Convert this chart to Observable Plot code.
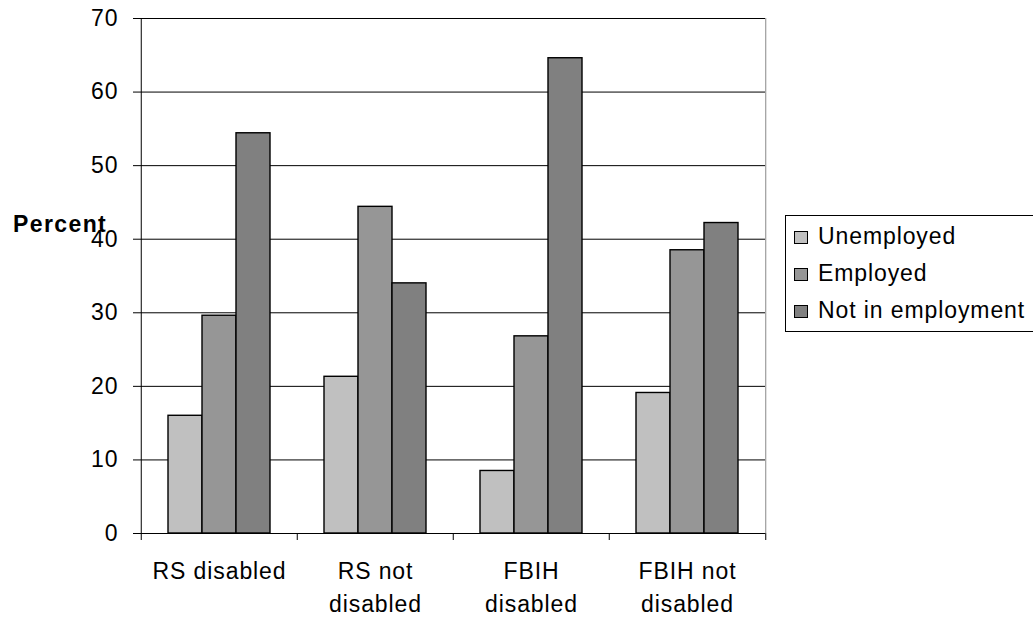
<!DOCTYPE html>
<html>
<head>
<meta charset="utf-8">
<script src="https://cdn.jsdelivr.net/npm/d3@7"></script>
<script src="https://cdn.jsdelivr.net/npm/@observablehq/plot@0.6"></script>
<style>
  body { margin: 0; background: #fff; }
  #wrap { position: relative; width: 1033px; height: 617px; overflow: hidden; font-family: "Liberation Sans", Arial, sans-serif; color: #000; }
  #chart { position: absolute; left: 0; top: 0; }
  #ylabel { position: absolute; left: 13px; top: 213px; font-size: 23px; line-height: 23px; font-weight: bold; letter-spacing: 1.4px; white-space: nowrap; }
  #legend { position: absolute; left: 785px; top: 215px; width: 262px; height: 117px; border: 1px solid #000; box-sizing: border-box; padding-top: 2px; }
  .row { height: 37px; line-height: 37px; font-size: 23px; letter-spacing: 0.9px; white-space: nowrap; padding-left: 8px; }
  .sw { display: inline-block; width: 14px; height: 13px; border: 1px solid #000; box-sizing: border-box; margin-right: 10px; vertical-align: baseline; }
</style>
</head>
<body>
<div id="wrap">
  <div id="chart"></div>
  <div id="ylabel">Percent</div>
  <div id="legend"></div>
</div>
<script>
const categories = ["RS disabled", "RS not disabled", "FBIH disabled", "FBIH not disabled"];
const tickLabels = ["RS disabled", "RS not\ndisabled", "FBIH\ndisabled", "FBIH not\ndisabled"];
const series = ["Unemployed", "Employed", "Not in employment"];
const unemployed = [16.0, 21.3, 8.5, 19.1];
const employed = [29.6, 44.4, 26.8, 38.5];
const notInEmployment = [54.4, 34.0, 64.6, 42.2];
const yTicks = [0, 10, 20, 30, 40, 50, 60, 70];
const colors = ["#c0c0c0", "#969696", "#808080"];

const seriesValues = [unemployed, employed, notInEmployment];
const data = [];
categories.forEach((c, i) => series.forEach((s, j) => data.push({category: c, series: s, value: seriesValues[j][i]})));

const W = 780, H = 617, ML = 140, MR = 14, MT = 18, MB = 84;
const fw = (W - ML - MR) / categories.length;
const labelOf = new Map(categories.map((c, i) => [c, tickLabels[i]]));
const first = categories[0], last = categories[categories.length - 1];

const chart = Plot.plot({
  width: W, height: H,
  marginLeft: ML, marginRight: MR, marginTop: MT, marginBottom: MB,
  style: {fontFamily: "Liberation Sans, Arial, sans-serif", fontSize: "23px", color: "#000", background: "#fff", letterSpacing: "0.9px", overflow: "visible"},
  fx: {domain: categories, padding: 0, label: null},
  x: {domain: series, paddingInner: 0, paddingOuter: 0.75, axis: null},
  y: {domain: [0, 70], label: null},
  color: {domain: series, range: colors},
  marks: [
    Plot.ruleY(yTicks, {stroke: "#000", strokeWidth: 1}),
    Plot.ruleX([last], {fx: d => d, x: null, y1: 0, y2: 70, dx: fw / 2, stroke: "#888"}),
    Plot.barY(data, {fx: "category", x: "series", y: "value", fill: "series", stroke: "#000", strokeWidth: 1.4}),
    Plot.ruleX([first], {fx: d => d, x: null, y1: 0, y2: 70, dx: -fw / 2, stroke: "#000"}),
    Plot.ruleX(categories, {fx: d => d, x: null, y1: 0, y2: 0, insetBottom: -7, dx: -fw / 2, stroke: "#000"}),
    Plot.ruleX([last], {fx: d => d, x: null, y1: 0, y2: 0, insetBottom: -7, dx: fw / 2, stroke: "#000"}),
    Plot.axisY({ticks: yTicks, tickSize: 8, tickPadding: 15, fontSize: 23, label: null}),
    Plot.axisFx({anchor: "bottom", tickSize: 0, tickPadding: 23, fontSize: 23, lineHeight: 1.4, label: null, tickFormat: d => labelOf.get(d)})
  ]
});
document.getElementById("chart").appendChild(chart);

const legend = document.getElementById("legend");
series.forEach((s, j) => {
  const row = document.createElement("div");
  row.className = "row";
  const sw = document.createElement("span");
  sw.className = "sw";
  sw.style.background = colors[j];
  row.appendChild(sw);
  row.appendChild(document.createTextNode(s));
  legend.appendChild(row);
});
</script>
</body>
</html>
